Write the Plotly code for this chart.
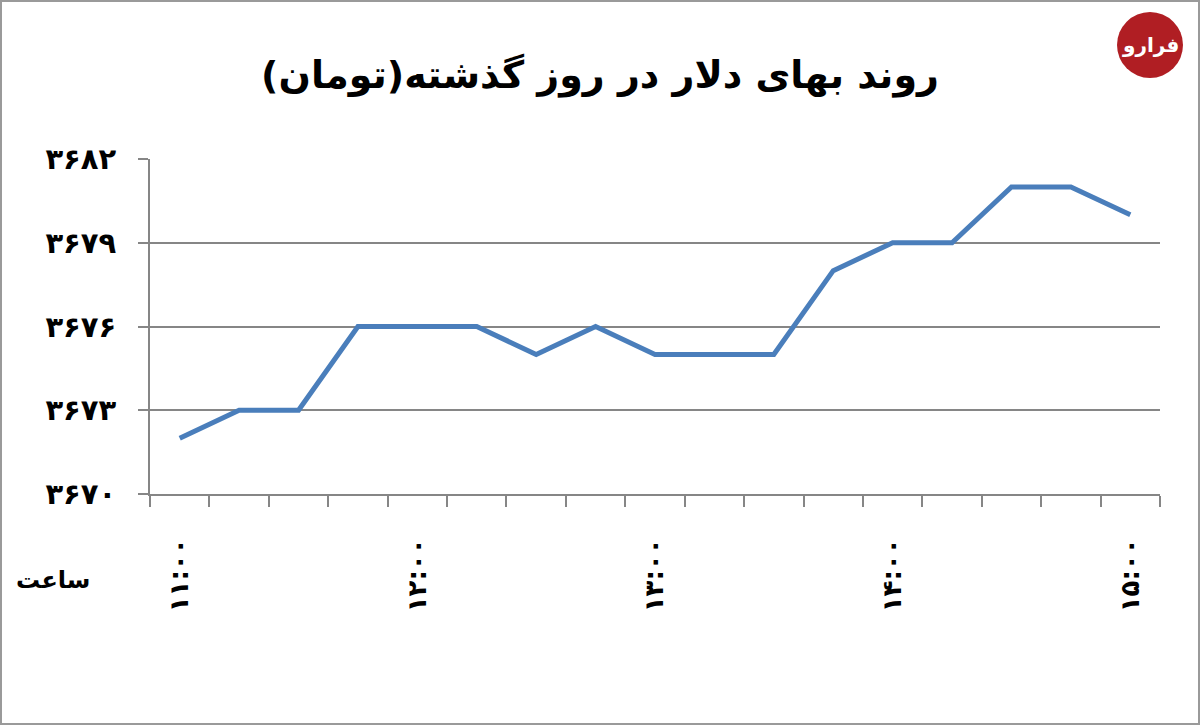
import plotly.graph_objects as go

# Data
times = ["۱۱:۰۰", "۱۱:۱۵", "۱۱:۳۰", "۱۱:۴۵",
         "۱۲:۰۰", "۱۲:۱۵", "۱۲:۳۰", "۱۲:۴۵",
         "۱۳:۰۰", "۱۳:۱۵", "۱۳:۳۰", "۱۳:۴۵",
         "۱۴:۰۰", "۱۴:۱۵", "۱۴:۳۰", "۱۴:۴۵",
         "۱۵:۰۰"]
prices = [3672, 3673, 3673, 3676, 3676, 3676, 3675, 3676, 3675,
          3675, 3675, 3678, 3679, 3679, 3681, 3681, 3680]
y_tickvals = [3670, 3673, 3676, 3679, 3682]
y_ticktext = ["۳۶۷۰", "۳۶۷۳", "۳۶۷۶", "۳۶۷۹", "۳۶۸۲"]
title_text = "روند بهای دلار در روز گذشته(تومان)"
x_title = "ساعت"
logo_text = "فرارو"

idx = list(range(len(times)))
label_step = 4

W, H = 1200, 725
ml, mr, mt, mb = 150, 40, 159, 231
pw, ph = W - ml - mr, H - mt - mb

def px_x(x):
    return (x - ml) / pw

def px_y(y):
    return (H - mb - y) / ph

grid = "#868686"
FONT = "DejaVu Sans"

fig = go.Figure()
fig.add_trace(go.Scatter(
    x=idx, y=prices, mode="lines",
    line=dict(color="#4A7EBB", width=5),
    hoverinfo="skip", showlegend=False,
))

fig.update_layout(
    width=W, height=H,
    margin=dict(l=ml, r=mr, t=mt, b=mb, pad=0),
    paper_bgcolor="white", plot_bgcolor="white",
    font=dict(family=FONT, color="black"),
    title=dict(text="<b>" + title_text + "</b>", x=0.5, xanchor="center",
               y=1 - 75 / H, yanchor="middle",
               font=dict(family=FONT, size=38, color="black")),
    showlegend=False,
)

fig.update_xaxes(
    range=[-0.5, len(times) - 0.5],
    tickvals=idx[::label_step], ticktext=["<b>" + t + "</b>" for t in times[::label_step]],
    tickangle=-90, tickfont=dict(family=FONT, size=26, color="black"),
    ticks="", ticklabelstandoff=32,
    showline=True, linecolor=grid, linewidth=2,
    showgrid=False, zeroline=False,
    minor=dict(tickvals=[i - 0.5 for i in range(len(times) + 1)],
               ticks="outside", ticklen=11, tickcolor=grid, tickwidth=2,
               showgrid=False),
)

fig.update_yaxes(
    range=[3670, 3682],
    tickvals=y_tickvals, ticktext=["<b>" + t + "</b>" for t in y_ticktext],
    tickfont=dict(family=FONT, size=29, color="black"),
    ticks="outside", ticklen=10, tickcolor=grid, tickwidth=2,
    ticklabelstandoff=16,
    showline=True, linecolor=grid, linewidth=2,
    showgrid=True, gridcolor=grid, gridwidth=2,
    zeroline=False,
)

# x-axis title annotation
fig.add_annotation(
    text="<b>" + x_title + "</b>", xref="paper", yref="paper",
    x=px_x(53), y=px_y(580), xanchor="center", yanchor="middle",
    showarrow=False, font=dict(family=FONT, size=24, color="black"),
)

# outer border
fig.add_shape(type="rect", xref="paper", yref="paper",
              x0=px_x(1), x1=px_x(W - 1), y0=px_y(H - 1), y1=px_y(1),
              line=dict(color="#9a9a9a", width=2), fillcolor="rgba(0,0,0,0)")

# logo
cx, cy, r = 1150, 45, 33
fig.add_shape(type="circle", xref="paper", yref="paper",
              x0=px_x(cx - r), x1=px_x(cx + r), y0=px_y(cy + r), y1=px_y(cy - r),
              line=dict(color="#B01E23", width=0), fillcolor="#B01E23")
fig.add_annotation(
    text="<b>" + logo_text + "</b>", xref="paper", yref="paper",
    x=px_x(cx), y=px_y(cy), xanchor="center", yanchor="middle",
    showarrow=False, font=dict(family=FONT, size=20, color="white"),
)

fig.write_html("out.html",
               config={"displayModeBar": False},
               post_script="document.body.style.margin='0';document.body.style.overflow='hidden';")
